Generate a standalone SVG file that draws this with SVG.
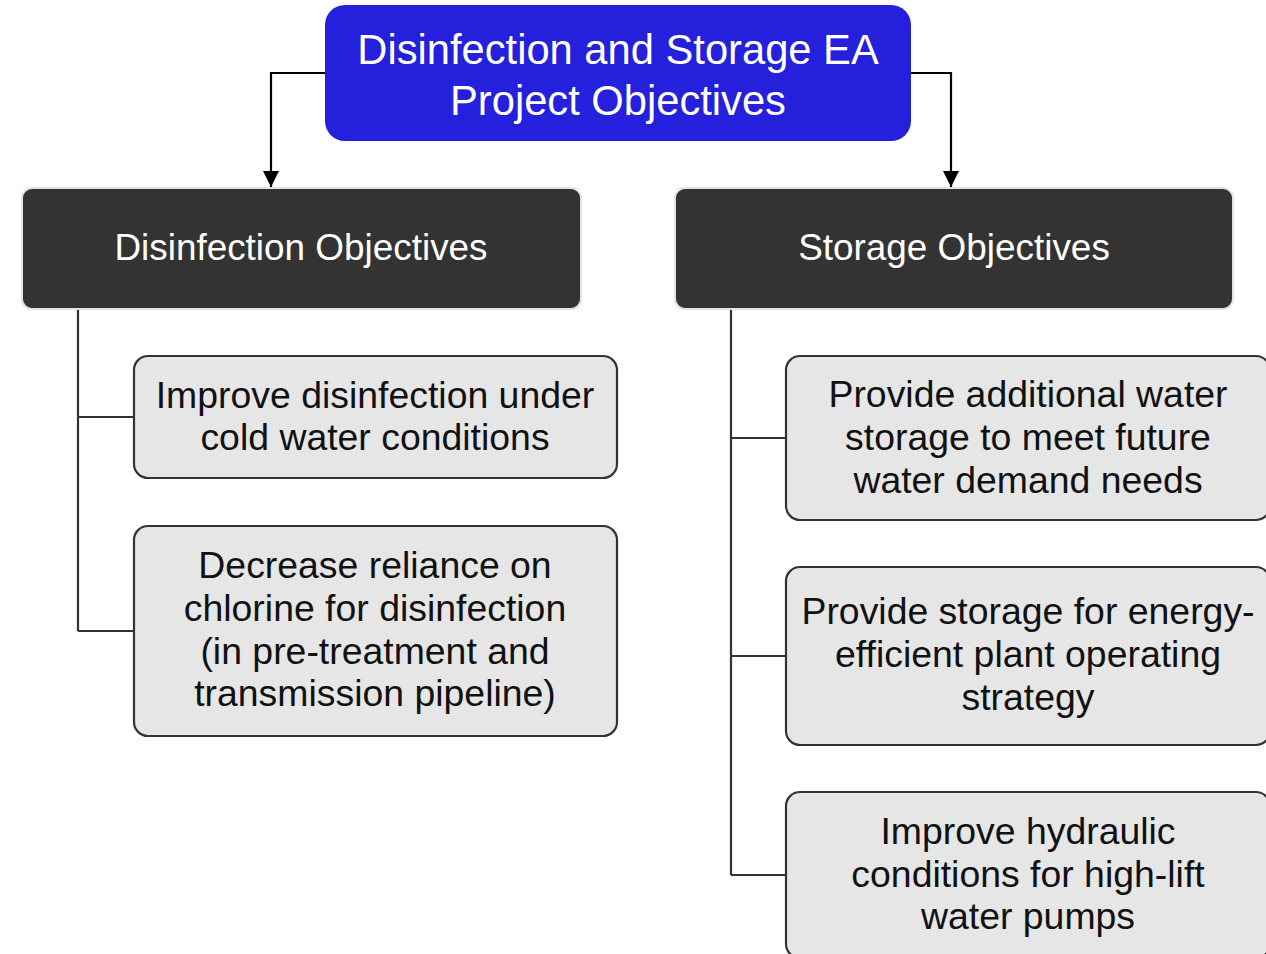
<svg xmlns="http://www.w3.org/2000/svg" width="1266" height="954" viewBox="0 0 1266 954">
<defs>
<style>
text{font-family:"Liberation Sans",Arial,sans-serif;text-anchor:middle}
.title{fill:#ffffff;font-size:41.7px}
.head{fill:#ffffff;font-size:36.9px}
.item{fill:#111111;font-size:37.4px}
.blue{fill:#2420dc}
.dark{fill:#333333;stroke:#e3e3e3;stroke-width:2}
.gray{fill:#e6e6e6;stroke:#333333;stroke-width:2.2}
.arrow{fill:none;stroke:#000000;stroke-width:2.2}
.tree{fill:none;stroke:#333333;stroke-width:2.2}
</style>
<marker id="ah2" viewBox="0 0 16 16" refX="16" refY="8" markerWidth="16" markerHeight="16" markerUnits="userSpaceOnUse" orient="auto">
<path d="M0,0 L16,8 L0,16 Z" fill="#000000"/>
</marker>
</defs>
<g id="connectors">
<path class="arrow" d="M325,73 H271 V187" marker-end="url(#ah2)"/>
<path class="arrow" d="M911,73 H951 V187" marker-end="url(#ah2)"/>
<path class="tree" d="M78,309 V631 M78,417 H134 M78,631 H134"/>
<path class="tree" d="M731,309 V875 M731,438 H786 M731,656 H786 M731,875 H786"/>
</g>
<g id="root">
<rect class="blue" x="325" y="5" width="586" height="136" rx="20"/>
<text class="title" x="618" y="64">Disinfection and Storage EA</text>
<text class="title" x="618" y="115">Project Objectives</text>
</g>
<g id="disinfection">
<rect class="dark" x="22" y="188" width="559" height="121" rx="10"/>
<text class="head" x="301" y="260">Disinfection Objectives</text>
</g>
<g id="storage">
<rect class="dark" x="675" y="188" width="558" height="121" rx="10"/>
<text class="head" x="954" y="260">Storage Objectives</text>
</g>
<g id="d1">
<rect class="gray" x="134" y="356" width="483" height="122" rx="14"/>
<text class="item" x="375" y="408">Improve disinfection under</text>
<text class="item" x="375" y="450">cold water conditions</text>
</g>
<g id="d2">
<rect class="gray" x="134" y="526" width="483" height="210" rx="14"/>
<text class="item" x="375" y="578">Decrease reliance on</text>
<text class="item" x="375" y="621">chlorine for disinfection</text>
<text class="item" x="375" y="664">(in pre-treatment and</text>
<text class="item" x="375" y="706">transmission pipeline)</text>
</g>
<g id="s1">
<rect class="gray" x="786" y="356" width="484" height="164" rx="14"/>
<text class="item" x="1028" y="407">Provide additional water</text>
<text class="item" x="1028" y="450">storage to meet future</text>
<text class="item" x="1028" y="493">water demand needs</text>
</g>
<g id="s2">
<rect class="gray" x="786" y="567" width="484" height="178" rx="14"/>
<text class="item" x="1028" y="624">Provide storage for energy-</text>
<text class="item" x="1028" y="667">efficient plant operating</text>
<text class="item" x="1028" y="710">strategy</text>
</g>
<g id="s3">
<rect class="gray" x="786" y="792" width="484" height="166" rx="14"/>
<text class="item" x="1028" y="844">Improve hydraulic</text>
<text class="item" x="1028" y="887">conditions for high-lift</text>
<text class="item" x="1028" y="929">water pumps</text>
</g>
</svg>
